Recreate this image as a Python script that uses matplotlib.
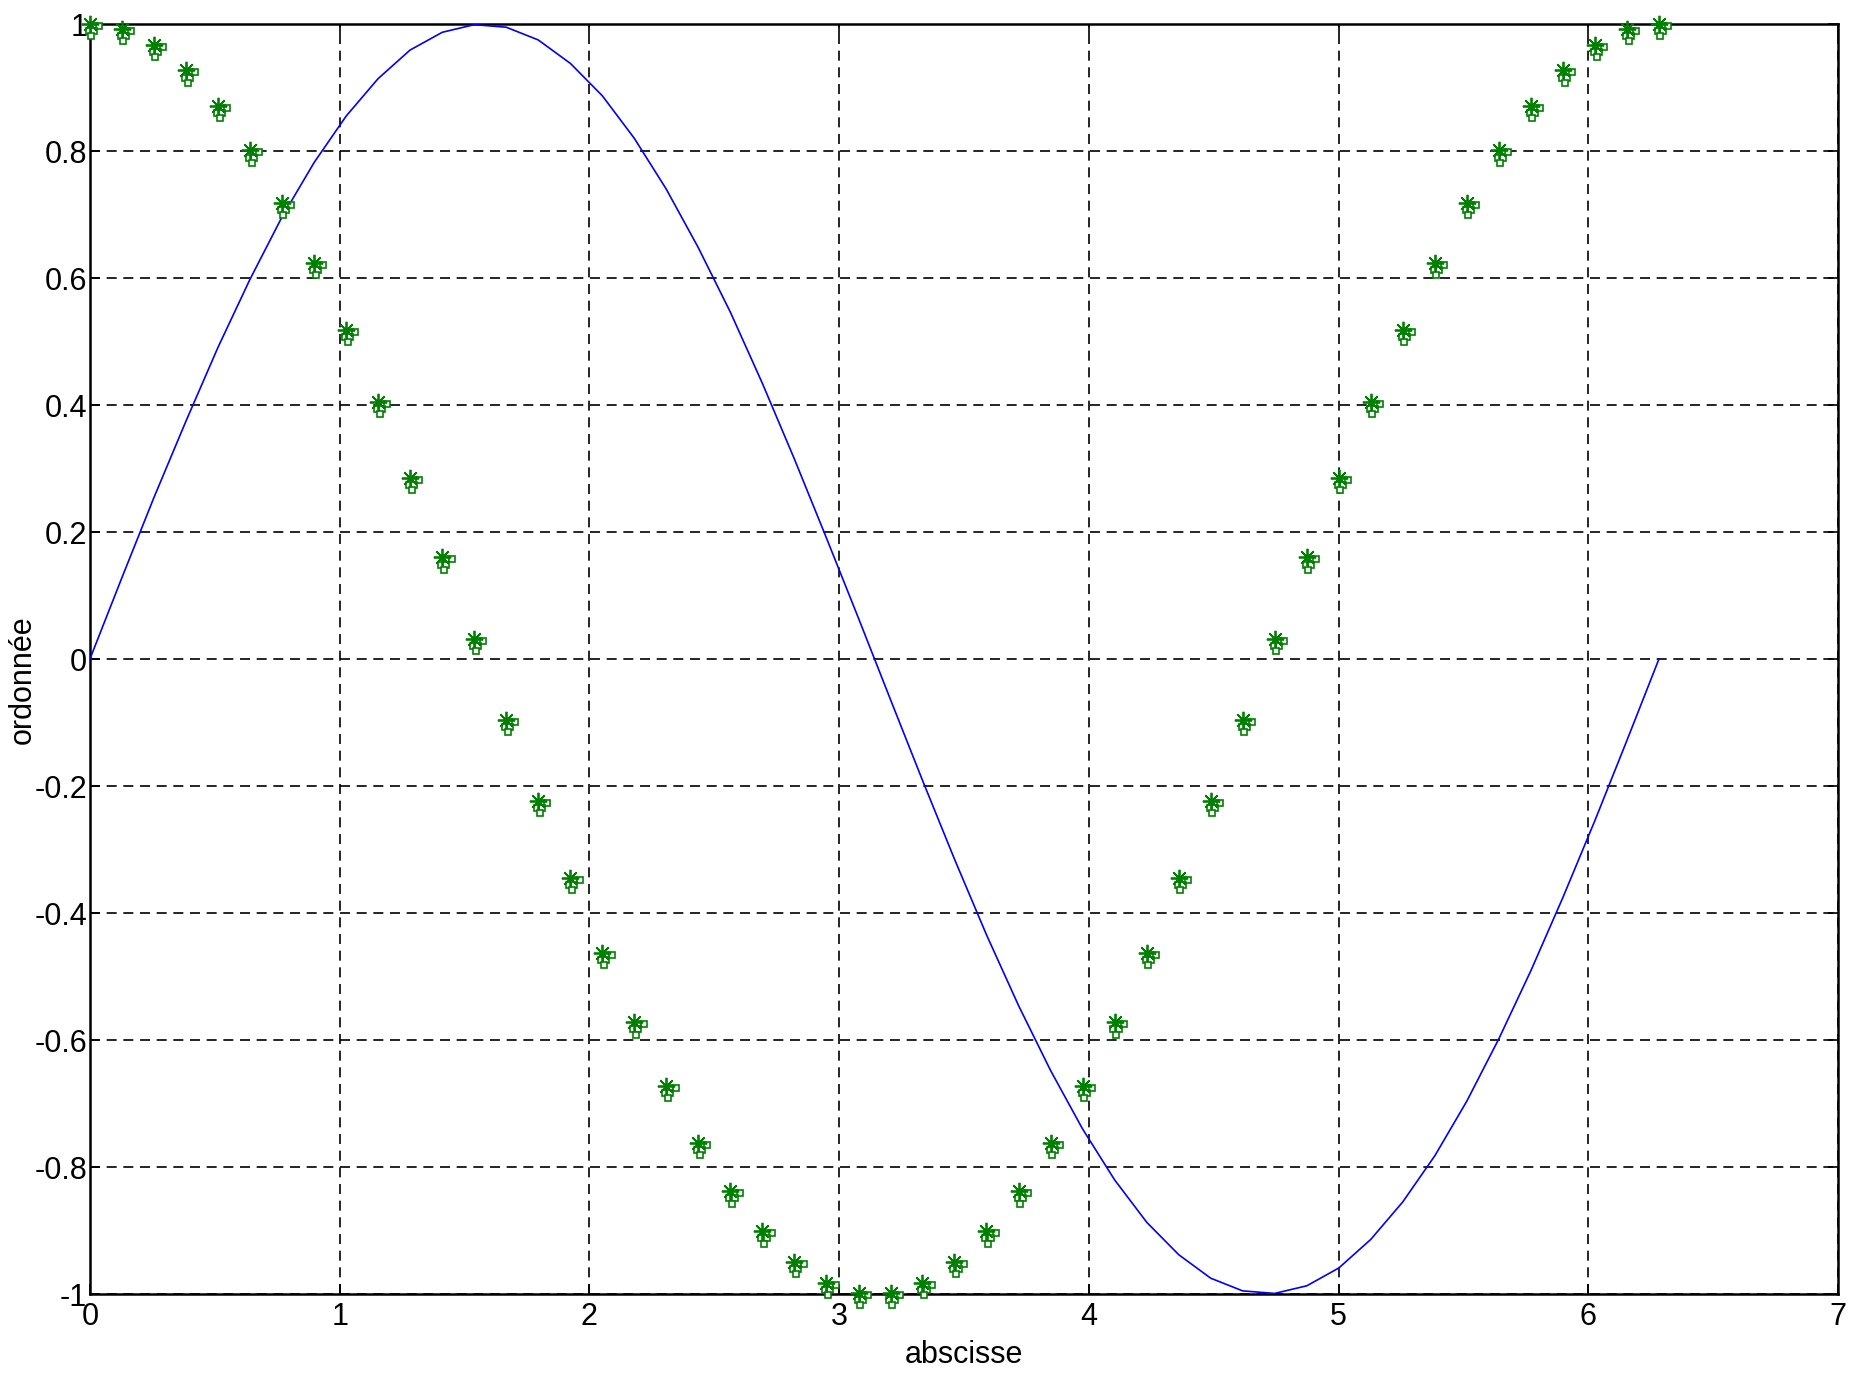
import matplotlib
matplotlib.use("Agg")
import matplotlib.pyplot as plt
import matplotlib.transforms as mtransforms

# valeurs (50 points de 0 a 2*pi)
x = [0.000, 0.128, 0.256, 0.385, 0.513, 0.641, 0.769, 0.898, 1.026, 1.154,
     1.282, 1.411, 1.539, 1.667, 1.795, 1.924, 2.052, 2.180, 2.308, 2.436,
     2.565, 2.693, 2.821, 2.949, 3.078, 3.206, 3.334, 3.462, 3.590, 3.719,
     3.847, 3.975, 4.103, 4.232, 4.360, 4.488, 4.616, 4.744, 4.873, 5.001,
     5.129, 5.257, 5.386, 5.514, 5.642, 5.770, 5.899, 6.027, 6.155, 6.283]

courbe = [0.000, 0.128, 0.254, 0.375, 0.491, 0.598, 0.696, 0.782, 0.855, 0.914,
          0.959, 0.987, 0.999, 0.995, 0.975, 0.938, 0.887, 0.820, 0.740, 0.648,
          0.546, 0.434, 0.315, 0.191, 0.064, -0.064, -0.191, -0.315, -0.434, -0.546,
          -0.648, -0.740, -0.820, -0.887, -0.938, -0.975, -0.995, -0.999, -0.987, -0.959,
          -0.914, -0.855, -0.782, -0.696, -0.598, -0.491, -0.375, -0.254, -0.128, 0.000]

points = [1.000, 0.992, 0.967, 0.927, 0.871, 0.801, 0.718, 0.624, 0.518, 0.405,
          0.285, 0.160, 0.032, -0.096, -0.223, -0.345, -0.463, -0.572, -0.672, -0.762,
          -0.838, -0.901, -0.949, -0.982, -0.998, -0.998, -0.982, -0.949, -0.901, -0.838,
          -0.762, -0.672, -0.572, -0.463, -0.345, -0.223, -0.096, 0.032, 0.160, 0.285,
          0.405, 0.518, 0.624, 0.718, 0.801, 0.871, 0.927, 0.967, 0.992, 1.000]

xticks = [0, 1, 2, 3, 4, 5, 6, 7]
yticks = [-1, -0.8, -0.6, -0.4, -0.2, 0, 0.2, 0.4, 0.6, 0.8, 1]
ytick_labels = ['-1', '-0.8', '-0.6', '-0.4', '-0.2', '0', '0.2', '0.4', '0.6', '0.8', '1']

plt.rcParams['font.family'] = ['Liberation Sans', 'DejaVu Sans']

fig = plt.figure(figsize=(18.5, 13.73), dpi=100)
ax = fig.add_axes([0.0486, 0.0575, 0.9449, 0.925])

vert = (0, 0.5, 0)
ax.plot(x, courbe, color=(0, 0, 1), lw=1.2, zorder=3)

# petits carres colles aux etoiles (comme sur l'original)
c = 3.7
decalages = [(c * 0.8, -c * 0.4), (c * 1.8, -c * 0.4), (-c * 0.2, -c * 1.4),
             (c * 0.8, -c * 1.4), (c * 0.3, -c * 2.4)]
for dx, dy in decalages:
    tr = mtransforms.offset_copy(ax.transData, fig=fig, x=dx, y=dy, units='points')
    ax.plot(x, points, ls='none', marker='s', ms=c, mfc='white', mec=vert,
            mew=1.2, transform=tr, zorder=4, clip_on=False)
ax.plot(x, points, ls='none', marker=(8, 2, 0), ms=12.5, mec=vert, mew=1.3,
        zorder=5, clip_on=False)

ax.set_xlim(0, 7)
ax.set_ylim(-1, 1)
ax.set_xticks(xticks)
ax.set_yticks(yticks)
ax.set_yticklabels(ytick_labels)
ax.grid(True, color='black', ls=(0, (6, 4)), lw=1.2)
ax.tick_params(direction='in', length=7, width=1.2, top=True, right=True,
               labelsize=22, colors='black')
ax.tick_params(axis='x', pad=6)
ax.tick_params(axis='y', pad=2)
for s in ax.spines.values():
    s.set_linewidth(1.8)

ax.set_xlabel('abscisse', fontsize=22)
ax.set_ylabel('ordonnée', fontsize=22)
ax.xaxis.set_label_coords(0.5, -0.036)
ax.yaxis.set_label_coords(-0.030, 0.484)

fig.savefig('out.png', dpi=100)
